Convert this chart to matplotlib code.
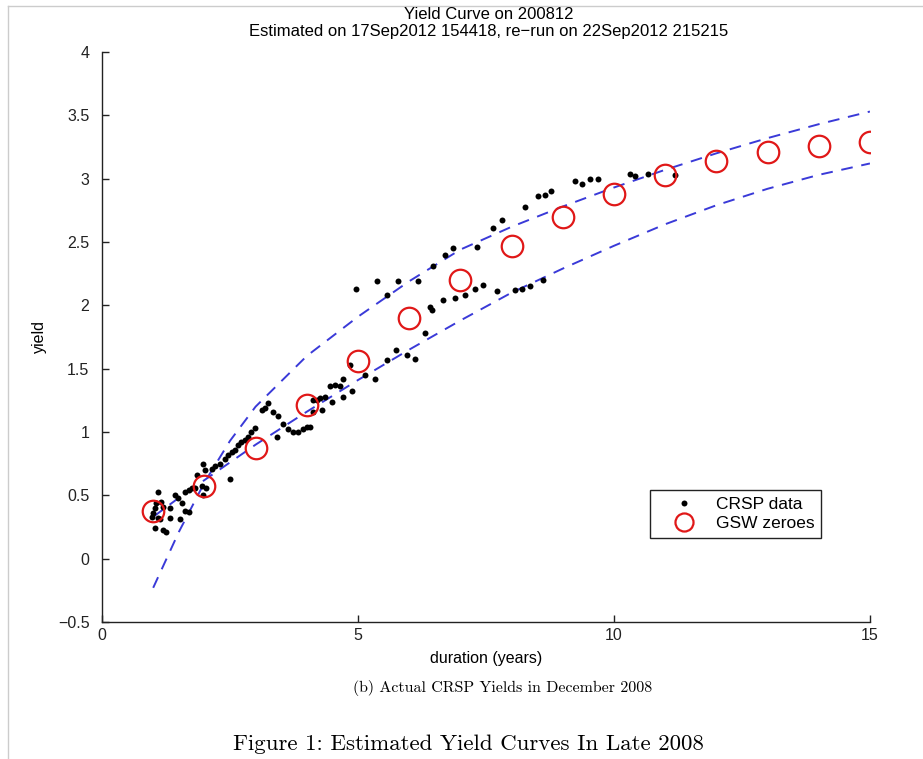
import matplotlib
matplotlib.use('Agg')

import numpy as np
import matplotlib.pyplot as plt
from matplotlib.lines import Line2D

# GSW zero-coupon yields at integer durations (years)
gsw_dur = np.arange(1, 16)
gsw_yield = [0.38, 0.57, 0.87, 1.21, 1.56, 1.90, 2.20, 2.47, 2.70,
             2.88, 3.03, 3.14, 3.21, 3.26, 3.29]

# dashed bands
band_dur = [1, 1.5, 2, 2.5, 3, 4, 5, 6, 7, 8, 9, 10, 11, 12, 13, 14, 15]
band_upper = [-0.23, 0.21, 0.60, 0.93, 1.20, 1.60, 1.91, 2.19, 2.44, 2.62,
              2.78, 2.93, 3.07, 3.20, 3.32, 3.43, 3.53]
band_lower = [0.33, 0.48, 0.62, 0.76, 0.90, 1.16, 1.41, 1.65, 1.88, 2.10,
              2.29, 2.47, 2.64, 2.79, 2.92, 3.03, 3.12]

# CRSP data points (duration, yield)
crsp_dur = [0.97, 1.00, 1.04, 1.10, 1.10, 1.13, 1.04, 1.20, 1.20, 1.26, 1.33, 1.33,
            1.06, 1.15, 1.43, 1.49, 1.52, 1.56, 1.62, 1.69, 1.62, 1.69, 1.75, 1.82,
            1.85, 1.95, 1.98, 2.04, 1.98, 2.01,
            2.14, 2.21, 2.30, 2.40, 2.47, 2.50, 2.53, 2.60, 2.66, 2.72, 2.79, 2.86,
            2.92, 2.99,
            3.12, 3.18, 3.25, 3.35, 3.44, 3.41, 3.54, 3.64, 3.74, 3.83, 3.93, 4.00,
            4.06, 4.13, 4.13, 4.19,
            4.29, 4.26, 4.36, 4.49, 4.45, 4.55, 4.65, 4.71, 4.71, 4.88, 4.84, 5.14,
            5.33, 4.97,
            5.37, 5.56, 5.79, 6.18, 6.47, 6.70, 6.86, 7.32, 7.64, 7.81, 8.26, 8.52,
            8.65, 8.78, 9.24, 9.37, 9.53, 9.69, 10.31, 10.41, 10.67, 11.19,
            5.56, 5.75, 5.95, 6.11, 6.31, 6.44, 6.41, 6.67, 6.89, 7.09, 7.29, 7.45,
            7.71, 8.07, 8.20, 8.36, 8.62]
crsp_yield = [0.33, 0.36, 0.40, 0.53, 0.32, 0.31, 0.24, 0.41, 0.23, 0.21, 0.40, 0.32,
              0.44, 0.45, 0.50, 0.48, 0.31, 0.44, 0.38, 0.37, 0.53, 0.54, 0.56, 0.56,
              0.66, 0.57, 0.50, 0.56, 0.75, 0.70,
              0.71, 0.73, 0.75, 0.79, 0.82, 0.63, 0.84, 0.86, 0.90, 0.92, 0.94, 0.96,
              1.00, 1.03,
              1.17, 1.19, 1.23, 1.16, 1.13, 0.96, 1.06, 1.02, 1.00, 1.00, 1.02, 1.04,
              1.04, 1.25, 1.16, 1.25,
              1.17, 1.27, 1.28, 1.24, 1.36, 1.37, 1.36, 1.42, 1.28, 1.32, 1.53, 1.45,
              1.42, 2.13,
              2.19, 2.08, 2.19, 2.19, 2.31, 2.40, 2.45, 2.46, 2.61, 2.67, 2.78, 2.86,
              2.87, 2.90, 2.98, 2.96, 3.00, 3.00, 3.04, 3.02, 3.04, 3.03,
              1.57, 1.65, 1.61, 1.58, 1.78, 1.96, 1.99, 2.04, 2.06, 2.08, 2.13, 2.16,
              2.11, 2.12, 2.13, 2.15, 2.20]

plt.rcParams['font.family'] = ['Liberation Sans', 'DejaVu Sans']

fig = plt.figure(figsize=(9.23, 7.59), dpi=100)
ax = fig.add_axes([0.1105, 0.1805, 0.832, 0.751])

blue = '#3a3ad8'
ax.plot(band_dur, band_upper, linestyle=(0, (6, 4.5)), color=blue, linewidth=1.4)
ax.plot(band_dur, band_lower, linestyle=(0, (6, 4.5)), color=blue, linewidth=1.4)
ax.plot(crsp_dur, crsp_yield, 'o', color='black', markersize=4.3,
        markeredgewidth=0, label='CRSP data')
ax.plot(gsw_dur, gsw_yield, 'o', markerfacecolor='none', markeredgecolor='#e01818',
        markersize=15.5, markeredgewidth=1.6, label='GSW zeroes')

ax.set_xlim(0, 15)
ax.set_ylim(-0.5, 4)
ax.set_xticks([0, 5, 10, 15])
ax.set_yticks([-0.5, 0, 0.5, 1, 1.5, 2, 2.5, 3, 3.5, 4])
ax.set_yticklabels(['\u22120.5', '0', '0.5', '1', '1.5', '2', '2.5', '3', '3.5', '4'])
ax.spines['top'].set_visible(False)
ax.spines['right'].set_visible(False)
for s in ('left', 'bottom'):
    ax.spines[s].set_color('#222222')
    ax.spines[s].set_linewidth(1.0)
ax.tick_params(direction='in', length=5, width=1, labelsize=11.5, colors='#222222')
ax.tick_params(axis='y', pad=9)
ax.tick_params(axis='x', pad=4)

ax.set_xlabel('duration (years)', fontsize=11.5, labelpad=6)
ax.set_ylabel('yield', fontsize=11.5, labelpad=8)

handles = [Line2D([], [], marker='o', linestyle='none', color='black',
                  markersize=4.3, markeredgewidth=0),
           Line2D([], [], marker='o', linestyle='none', markerfacecolor='none',
                  markeredgecolor='#e01818', markersize=13, markeredgewidth=1.6)]
leg = ax.legend(handles, ['CRSP data', 'GSW zeroes'], loc='upper left',
                bbox_to_anchor=(0.7135, 0.2316), borderaxespad=0, fancybox=False,
                fontsize=12.5, handlelength=3.1, borderpad=0.4, labelspacing=0.2,
                handletextpad=0.3, framealpha=1)
leg.get_frame().set_edgecolor('#222222')
leg.get_frame().set_linewidth(1.0)

fig.text(0.529, 0.981, 'Yield Curve on 200812', ha='center', va='center', fontsize=12)
fig.text(0.529, 0.959, 'Estimated on 17Sep2012 154418, re\u2212run on 22Sep2012 215215',
         ha='center', va='center', fontsize=12)

fig.text(0.545, 0.094, '(b) Actual CRSP Yields in December 2008', ha='center',
         va='center', fontsize=11.5, family='cmr10')
fig.text(0.508, 0.019, 'Figure 1: Estimated Yield Curves In Late 2008', ha='center',
         va='center', fontsize=16.5, family='cmr10')

# page border of the scanned figure
fig.add_artist(Line2D([0.009, 1.0], [0.992, 0.992], color='#cccccc', linewidth=1))
fig.add_artist(Line2D([0.009, 0.009], [0.0, 0.992], color='#cccccc', linewidth=1))

fig.savefig('out.png', dpi=100)
